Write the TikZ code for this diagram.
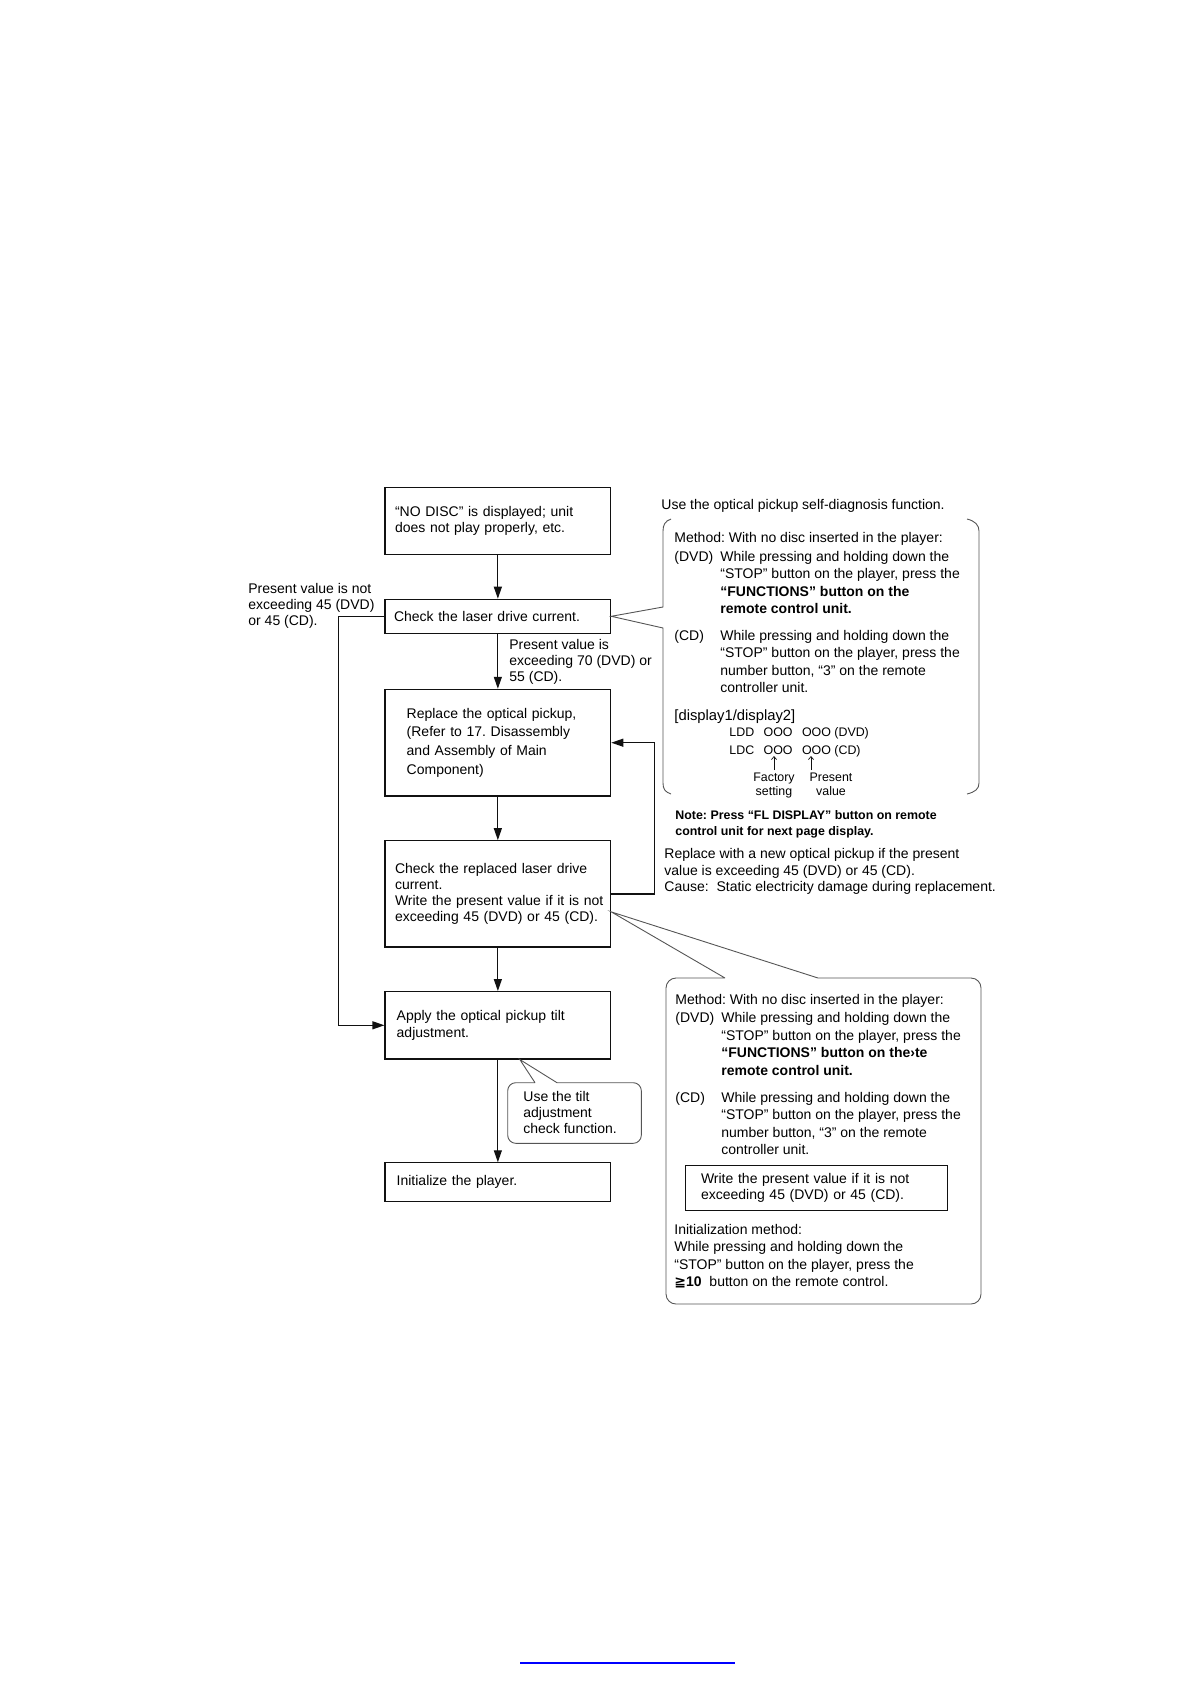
\documentclass[tikz,border=0pt]{standalone}
\usepackage{fontspec}
\setmainfont{Liberation Sans}
\newfontfamily\symfont{DejaVu Sans}
\usetikzlibrary{arrows.meta, calc}
\frenchspacing

\begin{document}
\begin{tikzpicture}[
    every node/.style={font=\fontsize{7}{8.2}\selectfont},
    % page coordinates in pixels: 1191 x 1685, y runs downward
    x=0.5pt, y=-0.5pt,
]

% ---------------------------------------------------------------- colours
\definecolor{ink}{HTML}{111111}
\definecolor{callcolor}{HTML}{555555}
\definecolor{linkblue}{HTML}{0000FF}

\tikzset{
    stepbox/.style={draw=ink, line width=0.6pt, rectangle, align=left,
                    minimum width=112.85pt, inner xsep=5pt, text width=102.85pt},
    flowarrow/.style={-{Triangle[length=6pt, width=4pt]}, line width=0.6pt, ink},
    calloutline/.style={callcolor, line width=0.45pt},
    textblock/.style={anchor=north west, inner sep=0pt, align=left,
                      font=\fontsize{7}{8.7}\selectfont},
    smalltext/.style={font=\fontsize{6.2}{7}\selectfont},
    tickarrow/.style={-{Straight Barb[length=1.5pt, width=2.5pt]}, line width=0.35pt, ink},
}

\useasboundingbox (0, 0) rectangle (1191, 1685);

% ---------------------------------------------------------------- flow boxes
\node[stepbox, minimum height=33.85pt, font=\fontsize{7}{7.7}\selectfont]
    (nodisc) at (497.85, 521) {“NO DISC” is displayed; unit\\does not play properly, etc.};
\node[stepbox, minimum height=17pt, inner xsep=4.5pt, text width=103.85pt]
    (laser) at (497.85, 616.3) {Check the laser drive current.};
\node[stepbox, minimum height=53.35pt, inner xsep=10.85pt, text width=91.15pt,
      font=\fontsize{7}{9.35}\selectfont]
    (pickup) at (497.85, 742.7) {Replace the optical pickup,\\(Refer to 17. Disassembly\\and Assembly of Main\\Component)};
\node[stepbox, minimum height=53.15pt, inner xsep=3.5pt, text width=105.85pt,
      font=\fontsize{7}{8}\selectfont]
    (recheck) at (497.85, 893.9) {\hspace*{1.5pt}Check the replaced laser drive\\\hspace*{1.5pt}current.\\\hspace*{1.5pt}Write the present value if it is not\\\hspace*{1.5pt}exceeding 45 (DVD) or 45 (CD).};
\node[stepbox, minimum height=33.65pt, inner xsep=5.85pt, text width=101.15pt]
    (tilt) at (497.85, 1025.3) {Apply the optical pickup tilt\\adjustment.};
\node[stepbox, minimum height=19.15pt, inner xsep=5.85pt, text width=101.15pt]
    (init) at (497.85, 1182) {Initialize the player.};

% ---------------------------------------------------------------- flow arrows
\draw[flowarrow] (nodisc) -- (laser);
\draw[flowarrow] (laser) -- (pickup);
\draw[flowarrow] (pickup) -- (recheck);
\draw[flowarrow] (recheck) -- (tilt);
\draw[flowarrow] (tilt) -- (init);
\draw[flowarrow] (laser.west) -- ++(-46, 0) |- (tilt.west);
\draw[flowarrow] (recheck.east) -- ++(43, 0) |- (pickup.east);

\node[textblock, font=\fontsize{7}{8}\selectfont] (notexceed) at (248, 583)
    {Present value is not\\exceeding 45 (DVD)\\or 45 (CD).};
\node[textblock, font=\fontsize{7}{8}\selectfont] (exceed) at (509, 639)
    {Present value is\\exceeding 70 (DVD) or\\55 (CD).};

% ---------------------------------------------------------------- self-diagnosis bracket
\node[textblock] (diag) at (661, 499) {Use the optical pickup self-diagnosis function.};
\draw[calloutline] (671, 519) .. controls (665, 521) and (663, 525) .. (663, 531)
    -- (663, 607) -- (laser.east) -- (663, 628) -- (663, 783)
    .. controls (663, 789) and (665, 792) .. (671, 794);
\draw[calloutline] (967, 519) .. controls (975, 521) and (979, 525) .. (979, 531)
    -- (979, 783) .. controls (979, 789) and (975, 792) .. (967, 794);

\node[textblock] (method1) at (674, 532) {Method: With no disc inserted in the player:};
\node[textblock] (dvd1) at (674, 551) {(DVD)};
\node[textblock] (dvd1txt) at (720, 551)
    {While pressing and holding down the\\“STOP” button on the player, press the\\\textbf{“FUNCTIONS” button on the}\\\textbf{remote control unit.}};
\node[textblock] (cd1) at (674, 630) {(CD)};
\node[textblock] (cd1txt) at (720, 630)
    {While pressing and holding down the\\“STOP” button on the player, press the\\number button, “3” on the remote\\controller unit.};
\node[textblock, font=\fontsize{7.4}{8.7}\selectfont] (disp) at (674, 709) {[display1/display2]};
\node[textblock, smalltext, font=\fontsize{6.2}{9}\selectfont] (ldd) at (729, 727)
    {LDD\hspace{3pt} OOO\hspace{3pt} OOO (DVD)\\LDC\hspace{3pt} OOO\hspace{3pt} OOO (CD)};

\node[smalltext, align=center, inner sep=0pt, anchor=north] (factory) at (774, 773) {Factory\\setting};
\node[smalltext, align=center, inner sep=0pt, anchor=north] (present) at (831, 773) {Present\\value};
\coordinate (factorypt) at (774, 756);
\coordinate (presentpt) at (811, 756);
\draw[tickarrow] ($(factory.north)+(0, -3)$) -- (factorypt);
\draw[tickarrow] ($(present.north)+(-20, -3)$) -- (presentpt);

\node[textblock, font=\bfseries\fontsize{6.2}{8}\selectfont] (flnote) at (675, 810)
    {Note: Press “FL DISPLAY” button on remote\\control unit for next page display.};
\node[textblock, font=\fontsize{7}{8.25}\selectfont] (newpickup) at (664, 848)
    {Replace with a new optical pickup if the present\\value is exceeding 45 (DVD) or 45 (CD).\\Cause:\ \ Static electricity damage during replacement.};

% ---------------------------------------------------------------- write / initialize callout
\coordinate (tipB) at ($(recheck.east)+(0, 18)$);
\draw[calloutline] (725, 978) -- (tipB) -- (818, 978) [rounded corners=5pt]
    -- (981, 978) -- (981, 1304) -- (666, 1304) -- (666, 978) -- (725, 978);

\node[textblock] (method2) at (675, 994) {Method: With no disc inserted in the player:};
\node[textblock] (dvd2) at (675, 1012) {(DVD)};
\node[textblock, font=\fontsize{7}{8.8}\selectfont] (dvd2txt) at (721, 1012)
    {While pressing and holding down the\\“STOP” button on the player, press the\\\textbf{“FUNCTIONS” button on the›te}\\\textbf{remote control unit.}};
\node[textblock] (cd2) at (675, 1092) {(CD)};
\node[textblock] (cd2txt) at (721, 1092)
    {While pressing and holding down the\\“STOP” button on the player, press the\\number button, “3” on the remote\\controller unit.};
\node[draw=ink, line width=0.5pt, minimum width=131pt, minimum height=22.5pt,
      inner xsep=8pt, text width=115pt, align=left, font=\fontsize{7}{8}\selectfont]
    (writebox) at (816, 1187.5) {Write the present value if it is not\\exceeding 45 (DVD) or 45 (CD).};
\node[textblock] (initmethod) at (674, 1224)
    {Initialization method:\\While pressing and holding down the\\“STOP” button on the player, press the\\{\symfont\bfseries ≧}\textbf{10}\ \ button on the remote control.};

% ---------------------------------------------------------------- tilt check callout
\coordinate (tipA) at ($(tilt.south)+(22, 0)$);
\draw[calloutline] (535, 1082.7) -- (tipA) -- (557, 1082.7) [rounded corners=4pt]
    -- (641.3, 1082.7) -- (641.3, 1143.3) -- (507.7, 1143.3) -- (507.7, 1082.7) -- (535, 1082.7);
\node[textblock, font=\fontsize{7}{8}\selectfont] (tiltnote) at (523, 1091)
    {Use the tilt\\adjustment\\check function.};

% ---------------------------------------------------------------- link line
\draw[linkblue, line width=1pt] (520, 1663) -- (735, 1663);

\end{tikzpicture}
\end{document}
